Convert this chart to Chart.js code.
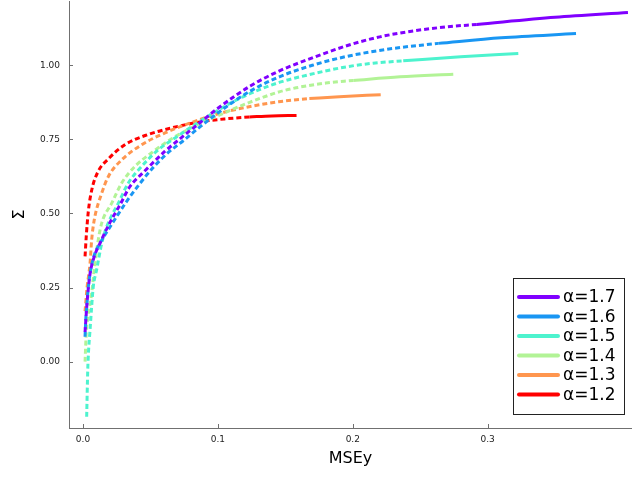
<!DOCTYPE html>
<html>
<head>
<meta charset="utf-8">
<script src="https://cdn.jsdelivr.net/npm/chart.js@4"></script>
<style>
  body { margin: 0; background: #fff; }
  #wrap { width: 632px; height: 478px; }
</style>
</head>
<body>
<div id="wrap"><canvas id="chart" width="632" height="478"></canvas></div>
<script>
// legend labels, top to bottom
const alphaLabels = ['α=1.7', 'α=1.6', 'α=1.5', 'α=1.4', 'α=1.3', 'α=1.2'];
const lineColors = ['#8000ff', '#1996f3', '#4df3ce', '#b2f396', '#ff964f', '#ff0000'];

// tick values
const xTicks = [0.0, 0.1, 0.2, 0.3];
const yTicks = [0.0, 0.25, 0.5, 0.75, 1.0];

// [MSEy, Σ] pairs, dashed part then solid part
const dashed17 = [[0.0015,0.10],[0.003,0.20],[0.005,0.29],[0.008,0.35],[0.0126,0.40],[0.02,0.47],[0.0274,0.529],[0.0348,0.591],[0.045,0.64],[0.0608,0.71],[0.0732,0.757],[0.085,0.80],[0.1,0.855],[0.124,0.93],[0.146,0.982],[0.17,1.025],[0.1955,1.066],[0.22,1.096],[0.245,1.116],[0.27,1.13],[0.292,1.138]];
const solid17 = [[0.292,1.138],[0.35,1.162],[0.404,1.178]];

const dashed16 = [[0.0015,0.084],[0.002,0.14],[0.003,0.20],[0.004,0.255],[0.0055,0.305],[0.008,0.355],[0.012,0.395],[0.018,0.44],[0.025,0.49],[0.033,0.545],[0.042,0.60],[0.052,0.655],[0.063,0.705],[0.075,0.748],[0.085,0.786],[0.097,0.829],[0.11,0.872],[0.124,0.913],[0.146,0.962],[0.17,1.0],[0.1955,1.03],[0.23,1.057],[0.2634,1.074]];
const solid16 = [[0.2634,1.074],[0.31,1.093],[0.3655,1.107]];

const dashed15 = [[0.0027,-0.186],[0.0035,-0.028],[0.004,0.028],[0.0052,0.107],[0.0064,0.186],[0.0076,0.253],[0.0101,0.31],[0.0139,0.40],[0.0176,0.456],[0.0262,0.535],[0.0336,0.603],[0.0435,0.659],[0.0558,0.715],[0.0682,0.755],[0.083,0.80],[0.097,0.84],[0.11,0.874],[0.124,0.905],[0.146,0.943],[0.158,0.958],[0.1955,0.995],[0.215,1.007],[0.2374,1.015]];
const solid15 = [[0.2374,1.015],[0.28,1.029],[0.3227,1.0395]];

const dashed14 = [[0.0015,0.0],[0.0025,0.107],[0.0038,0.152],[0.0064,0.231],[0.0089,0.332],[0.0113,0.411],[0.0139,0.468],[0.0213,0.535],[0.0287,0.603],[0.0385,0.659],[0.0509,0.705],[0.0657,0.752],[0.083,0.795],[0.1,0.83],[0.124,0.876],[0.146,0.911],[0.158,0.924],[0.18,0.94],[0.2004,0.949]];
const solid14 = [[0.2004,0.949],[0.235,0.961],[0.2745,0.970]];

const dashed13 = [[0.0015,0.17],[0.003,0.25],[0.0052,0.332],[0.0064,0.411],[0.0082,0.475],[0.0139,0.569],[0.0188,0.625],[0.0287,0.681],[0.0435,0.732],[0.0608,0.772],[0.078,0.803],[0.099,0.835],[0.124,0.861],[0.145,0.877],[0.1678,0.888]];
const solid13 = [[0.1678,0.888],[0.19,0.894],[0.2207,0.901]];

const dashed12 = [[0.0015,0.355],[0.0025,0.43],[0.004,0.51],[0.0065,0.58],[0.011,0.64],[0.019,0.685],[0.031,0.732],[0.046,0.763],[0.066,0.789],[0.087,0.809],[0.105,0.819],[0.1233,0.8257]];
const solid12 = [[0.1233,0.8257],[0.14,0.829],[0.1583,0.831]];

const dashedParts = [dashed17, dashed16, dashed15, dashed14, dashed13, dashed12];
const solidParts = [solid17, solid16, solid15, solid14, solid13, solid12];

function toPoints(arr) {
    return arr.map(p => ({ x: p[0], y: p[1] }));
}

// red drawn on top: chart.js paints dataset 0 last
const datasets = [];
for (let i = alphaLabels.length - 1; i >= 0; i--) {
    datasets.push({
        label: alphaLabels[i],
        data: toPoints(solidParts[i]),
        borderColor: lineColors[i],
        borderWidth: 3,
        pointRadius: 0,
        order: i
    });
    datasets.push({
        label: alphaLabels[i] + ' dashed',
        data: toPoints(dashedParts[i]),
        borderColor: lineColors[i],
        borderWidth: 3,
        borderDash: [5, 3],
        pointRadius: 0,
        order: i
    });
}

const axisGray = '#707070';

// short ticks pointing into the plot
const innerTicks = {
    id: 'innerTicks',
    afterDraw(chart) {
        const ctx = chart.ctx;
        const area = chart.chartArea;
        const xs = chart.scales.x, ys = chart.scales.y;
        ctx.save();
        ctx.strokeStyle = axisGray;
        ctx.lineWidth = 1;
        ctx.beginPath();
        xTicks.forEach(v => {
            const px = Math.round(xs.getPixelForValue(v)) + 0.5;
            ctx.moveTo(px, area.bottom);
            ctx.lineTo(px, area.bottom - 4);
        });
        yTicks.forEach(v => {
            const py = Math.round(ys.getPixelForValue(v)) + 0.5;
            ctx.moveTo(area.left, py);
            ctx.lineTo(area.left + 4, py);
        });
        ctx.stroke();
        ctx.restore();
    }
};

// boxed legend in the lower right corner of the plot
const boxLegend = {
    id: 'boxLegend',
    afterDraw(chart) {
        const ctx = chart.ctx;
        const area = chart.chartArea;
        const boxW = 111, rowH = 19.5;
        const boxH = 136;
        const left = area.right - 8 - boxW;
        const top = area.bottom - 14 - boxH;
        ctx.save();
        ctx.fillStyle = '#fff';
        ctx.fillRect(left, top, boxW, boxH);
        ctx.strokeStyle = '#222';
        ctx.lineWidth = 1;
        ctx.strokeRect(Math.round(left) + 0.5, Math.round(top) + 0.5, boxW, boxH);
        ctx.font = '17px "DejaVu Sans"';
        ctx.textBaseline = 'middle';
        ctx.textAlign = 'left';
        alphaLabels.forEach((lab, i) => {
            const y = top + 19 + i * rowH;
            ctx.strokeStyle = lineColors[i];
            ctx.lineWidth = 4;
            ctx.lineCap = 'round';
            ctx.beginPath();
            ctx.moveTo(left + 6, y);
            ctx.lineTo(left + 45, y);
            ctx.stroke();
            ctx.fillStyle = '#000';
            ctx.fillText(lab, left + 50, y + 1);
        });
        ctx.restore();
    }
};

const ctx = document.getElementById('chart').getContext('2d');
const chart = new Chart(ctx, {
    type: 'line',
    data: { datasets: datasets },
    options: {
        responsive: false,
        animation: false,
        layout: { padding: { left: 0, right: 0, top: 1, bottom: 0 } },
        elements: { line: { cubicInterpolationMode: 'monotone' } },
        plugins: {
            legend: { display: false },
            tooltip: { enabled: false }
        },
        scales: {
            x: {
                type: 'linear',
                min: -0.0104,
                max: 0.407,
                afterFit: s => { s.height = 50; s.paddingLeft = 0; s.paddingRight = 0; },
                afterBuildTicks: s => { s.ticks = xTicks.map(v => ({ value: v })); },
                grid: { display: false, drawTicks: false },
                border: { display: true, color: axisGray, width: 1 },
                ticks: {
                    padding: 6,
                    maxRotation: 0,
                    color: '#222',
                    font: { family: 'DejaVu Sans', size: 9 },
                    callback: v => v.toFixed(1)
                },
                title: {
                    display: true,
                    text: 'MSEy',
                    color: '#000',
                    font: { family: 'DejaVu Sans', size: 16 },
                    padding: { top: 0, bottom: 10 }
                }
            },
            y: {
                type: 'linear',
                min: -0.224,
                max: 1.217,
                afterFit: s => { s.width = 69; s.paddingTop = 0; s.paddingBottom = 0; },
                afterBuildTicks: s => { s.ticks = yTicks.map(v => ({ value: v })); },
                grid: { display: false, drawTicks: false },
                border: { display: true, color: axisGray, width: 1 },
                ticks: {
                    padding: 9,
                    color: '#222',
                    font: { family: 'DejaVu Sans', size: 9 },
                    callback: v => v.toFixed(2)
                },
                title: {
                    display: true,
                    text: 'Σ',
                    color: '#000',
                    font: { family: 'DejaVu Sans', size: 16 },
                    padding: { top: 10, bottom: 0 }
                }
            }
        }
    },
    plugins: [innerTicks, boxLegend]
});
</script>
</body>
</html>
